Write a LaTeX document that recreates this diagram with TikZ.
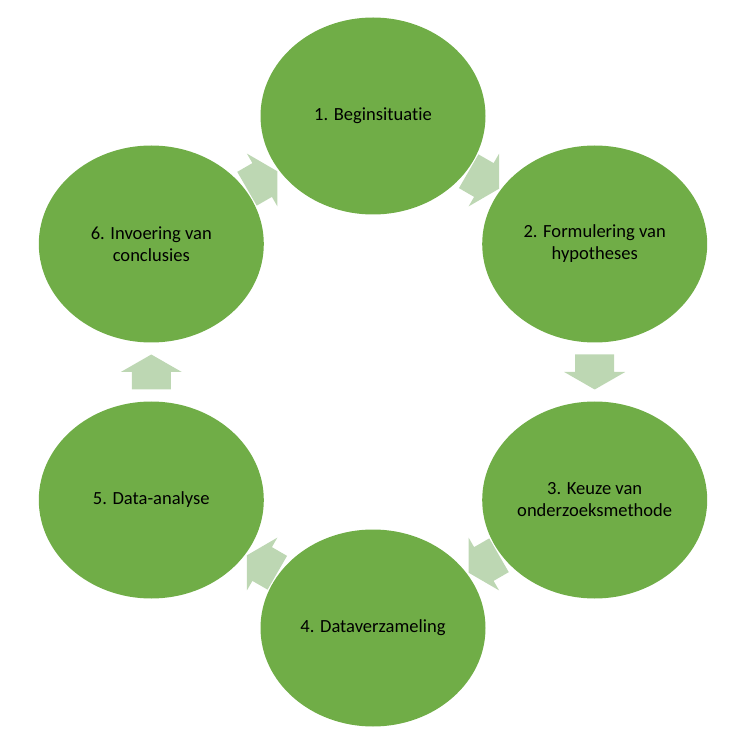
\documentclass[tikz,border=0pt]{standalone}
\usepackage{fontspec}
\setmainfont[Ligatures={NoCommon}]{Carlito}
\usetikzlibrary{shapes.geometric,calc}
\definecolor{circgreen}{HTML}{70AD47}
\definecolor{arrowgreen}{HTML}{BDD7B3}
\tikzset{
  stage/.style={ellipse, fill=circgreen, draw=none, inner sep=0pt,
    minimum width=225*0.75pt, minimum height=197*0.75pt,
    align=center, text=black, font=\fontsize{13.9}{16.5}\selectfont},
  blockarrow/.style={fill=arrowgreen, draw=none}
}
\newcommand{\cyclearrow}[3]{%
  \begin{scope}[shift={($(#1)!0.5!(#2)$)}, rotate=#3]
    \fill[blockarrow] (-17.5,-19.5) -- (0,-19.5) -- (0,-30.5) -- (17.5,0)
      -- (0,30.5) -- (0,19.5) -- (-17.5,19.5) -- cycle;
  \end{scope}}
\begin{document}
\begin{tikzpicture}[x=0.75pt, y=0.75pt]
  \useasboundingbox (0,0) rectangle (735,729);
  \coordinate (o) at (373,357);
  \node[stage] (s1) at ($(o)+(90:256)$) {1. Beginsituatie};
  \node[stage] (s2) at ($(o)+(30:256)$) {2. Formulering van\\hypotheses};
  \node[stage] (s3) at ($(o)+(-30:256)$) {3. Keuze van\\onderzoeksmethode};
  \node[stage] (s4) at ($(o)+(-90:256)$) {4. Dataverzameling};
  \node[stage] (s5) at ($(o)+(-150:256)$) {5. Data-analyse};
  \node[stage] (s6) at ($(o)+(150:256)$) {6. Invoering van\\conclusies};
  \cyclearrow{s1}{s2}{-30}
  \cyclearrow{s2}{s3}{-90}
  \cyclearrow{s3}{s4}{-150}
  \cyclearrow{s4}{s5}{150}
  \cyclearrow{s5}{s6}{90}
  \cyclearrow{s6}{s1}{30}
\end{tikzpicture}
\end{document}
